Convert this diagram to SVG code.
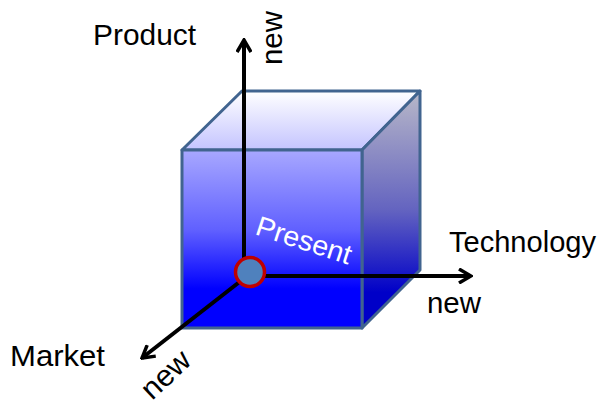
<svg xmlns="http://www.w3.org/2000/svg" width="600" height="406" viewBox="0 0 600 406">
<defs>
<linearGradient id="gFront" x1="0" y1="0" x2="0" y2="1">
<stop offset="0" stop-color="#a8a8ff"/>
<stop offset="0.45" stop-color="#6060ff"/>
<stop offset="0.78" stop-color="#0000ff"/>
<stop offset="1" stop-color="#0000ff"/>
</linearGradient>
<linearGradient id="gTop" x1="0" y1="0" x2="0" y2="1">
<stop offset="0" stop-color="#ffffff"/>
<stop offset="1" stop-color="#c4c4ff"/>
</linearGradient>
<linearGradient id="gSide" x1="0" y1="0" x2="0" y2="1">
<stop offset="0" stop-color="#b8b8c8"/>
<stop offset="0.5" stop-color="#6464c0"/>
<stop offset="0.85" stop-color="#0000c8"/>
<stop offset="1" stop-color="#0000c8"/>
</linearGradient>
<marker id="arr" viewBox="0 0 16 16" refX="14" refY="8" markerWidth="16" markerHeight="16" markerUnits="userSpaceOnUse" orient="auto">
<path d="M2,1 L14,8 L2,15" fill="none" stroke="#000" stroke-width="3.5"/>
</marker>
</defs>
<style>
.face{stroke:#41648f;stroke-width:3;stroke-linejoin:round}
.axis{fill:none;stroke:#000;stroke-width:4;marker-end:url(#arr)}
.lbl{font-family:"Liberation Sans",Arial,sans-serif;font-size:30px;fill:#000}
</style>
<g id="cube">
<polygon class="face" points="182,150 242,91 420,91 362,150" fill="url(#gTop)"/>
<polygon class="face" points="362,150 420,91 420,270 362,328" fill="url(#gSide)"/>
<rect class="face" x="182" y="150" width="180" height="178" fill="url(#gFront)"/>
</g>
<g id="connectors">
<line class="axis" x1="244" y1="268" x2="244" y2="40"/>
<line class="axis" x1="258" y1="276" x2="471" y2="276"/>
<line class="axis" x1="242" y1="280" x2="142" y2="358"/>
</g>
<g id="present">
<circle cx="250" cy="272" r="14.5" fill="#4f81bd" stroke="#c00000" stroke-width="3.5"/>
<text transform="translate(254,234) rotate(18)" font-family="Liberation Sans, Arial, sans-serif" font-size="28" fill="#fff" textLength="99" lengthAdjust="spacingAndGlyphs">Present</text>
</g>
<g id="product"><text class="lbl" x="93" y="45" textLength="103" lengthAdjust="spacingAndGlyphs">Product</text></g>
<g id="technology"><text class="lbl" x="449" y="252" textLength="147" lengthAdjust="spacingAndGlyphs">Technology</text></g>
<g id="market"><text class="lbl" x="10" y="366" textLength="95" lengthAdjust="spacingAndGlyphs">Market</text></g>
<g id="new-product"><text class="lbl" transform="translate(282,65) rotate(-90)" textLength="54" lengthAdjust="spacingAndGlyphs">new</text></g>
<g id="new-technology"><text class="lbl" x="427" y="313" textLength="54" lengthAdjust="spacingAndGlyphs">new</text></g>
<g id="new-market"><text class="lbl" transform="translate(152,401) rotate(-43)" textLength="56" lengthAdjust="spacingAndGlyphs">new</text></g>
</svg>
